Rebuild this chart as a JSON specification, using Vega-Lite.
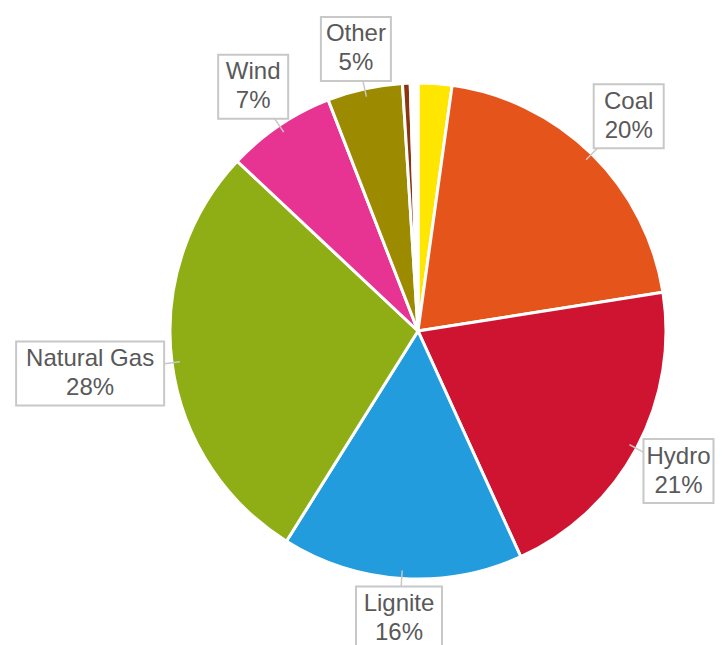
{
  "$schema": "https://vega.github.io/schema/vega-lite/v6.json",
  "width": 610,
  "height": 628,
  "autosize": {"type": "none"},
  "padding": {"left": 113, "top": 17, "right": 0, "bottom": 0},
  "background": "white",
  "config": {"view": {"stroke": null}},
  "data": {
    "values": [
      {"source": "Solar", "share": 2.2, "rank": 1},
      {"source": "Coal", "share": 20.3, "rank": 2},
      {"source": "Hydro", "share": 20.7, "rank": 3},
      {"source": "Lignite", "share": 15.7, "rank": 4},
      {"source": "Natural Gas", "share": 28.1, "rank": 5},
      {"source": "Wind", "share": 7.1, "rank": 6},
      {"source": "Other", "share": 4.9, "rank": 7},
      {"source": "Oil", "share": 0.5, "rank": 8},
      {"source": "Biomass", "share": 0.5, "rank": 9}
    ]
  },
  "transform": [
    {"window": [{"op": "sum", "field": "share", "as": "cum"}], "sort": [{"field": "rank"}], "frame": [null, 0]},
    {"joinaggregate": [{"op": "sum", "field": "share", "as": "total"}]},
    {"calculate": "2*PI*(datum.cum - datum.share/2)/datum.total", "as": "mid"},
    {"calculate": "datum.source==='Natural Gas'?74:(datum.source==='Lignite'?43:35)", "as": "hw"},
    {"calculate": "32", "as": "hh"},
    {"calculate": "256 + min(datum.hw/max(abs(sin(datum.mid)),0.000001), datum.hh/max(abs(cos(datum.mid)),0.000001))", "as": "dist"},
    {"calculate": "sin(datum.mid)*datum.dist", "as": "lx"},
    {"calculate": "cos(datum.mid)*datum.dist", "as": "ly"},
    {"calculate": "datum.lx - datum.hw", "as": "bx1"},
    {"calculate": "datum.lx + datum.hw", "as": "bx2"},
    {"calculate": "datum.ly - datum.hh", "as": "by1"},
    {"calculate": "datum.ly + datum.hh", "as": "by2"},
    {"calculate": "sin(datum.mid)*240", "as": "ax"},
    {"calculate": "cos(datum.mid)*240", "as": "ay"},
    {"calculate": "[datum.source, format(datum.share/100, '.0%')]", "as": "label"}
  ],
  "layer": [
    {
      "mark": {"type": "arc", "outerRadius": 248, "stroke": "#ffffff", "strokeWidth": 3},
      "encoding": {
        "theta": {"field": "share", "type": "quantitative", "stack": true},
        "order": {"field": "rank", "type": "quantitative"},
        "color": {
          "field": "source",
          "type": "nominal",
          "legend": null,
          "scale": {
            "domain": ["Solar", "Coal", "Hydro", "Lignite", "Natural Gas", "Wind", "Other", "Oil", "Biomass"],
            "range": ["#FFE600", "#E5541B", "#CF1431", "#239CDE", "#8FAE16", "#E73492", "#9C8B00", "#8B3510", "#FFFFFF"]
          }
        }
      }
    },
    {
      "transform": [{"filter": "datum.share >= 3"}],
      "mark": {"type": "rule", "stroke": "#C8C8C8", "strokeWidth": 1.5},
      "encoding": {
        "x": {"field": "ax", "type": "quantitative", "scale": {"domain": [-305, 305], "nice": false, "zero": false}, "axis": null},
        "y": {"field": "ay", "type": "quantitative", "scale": {"domain": [-314, 314], "nice": false, "zero": false}, "axis": null},
        "x2": {"field": "lx"},
        "y2": {"field": "ly"}
      }
    },
    {
      "transform": [{"filter": "datum.share >= 3"}],
      "mark": {"type": "rect", "fill": "#ffffff", "stroke": "#C8C8C8", "strokeWidth": 2},
      "encoding": {
        "x": {"field": "bx1", "type": "quantitative", "scale": {"domain": [-305, 305], "nice": false, "zero": false}, "axis": null},
        "x2": {"field": "bx2"},
        "y": {"field": "by1", "type": "quantitative", "scale": {"domain": [-314, 314], "nice": false, "zero": false}, "axis": null},
        "y2": {"field": "by2"}
      }
    },
    {
      "transform": [{"filter": "datum.share >= 3"}],
      "mark": {"type": "text", "font": "Liberation Sans", "fontSize": 24, "lineHeight": 29, "dy": -14.5, "fill": "#595959", "align": "center", "baseline": "middle"},
      "encoding": {
        "x": {"field": "lx", "type": "quantitative", "scale": {"domain": [-305, 305], "nice": false, "zero": false}, "axis": null},
        "y": {"field": "ly", "type": "quantitative", "scale": {"domain": [-314, 314], "nice": false, "zero": false}, "axis": null},
        "text": {"field": "label"}
      }
    }
  ]
}
